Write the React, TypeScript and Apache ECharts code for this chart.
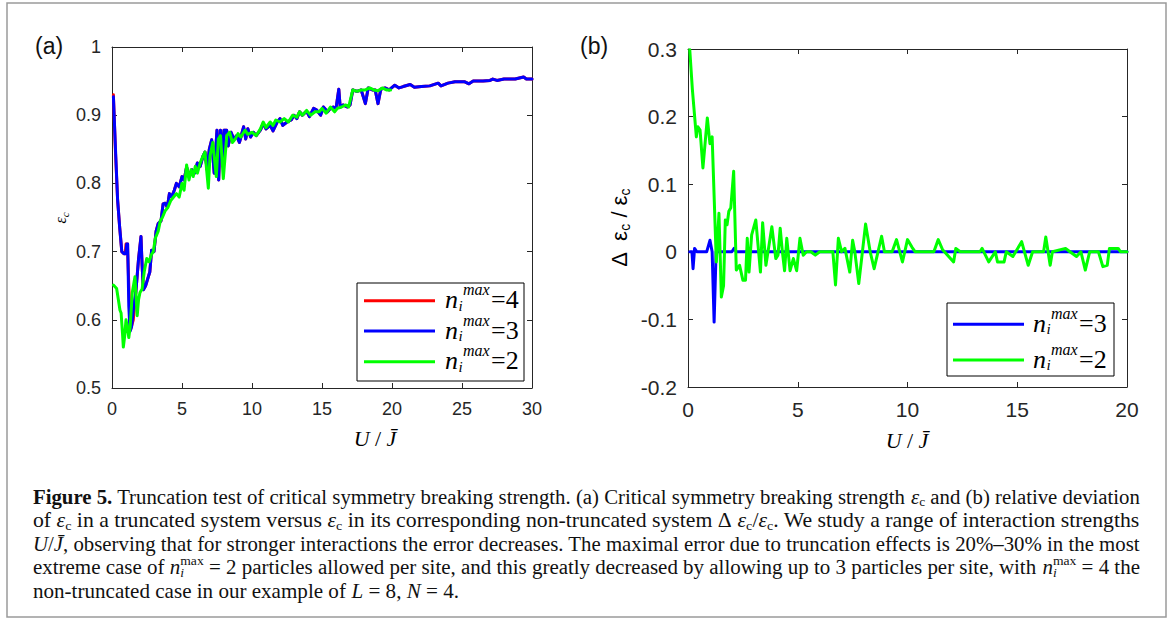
import React, { useEffect, useRef } from "react";
import * as echarts from "echarts";

type P = [number, number];

// ---------------- Panel (a): critical symmetry breaking strength ----------------
// n_i^max = 3 (blue) head, n_i^max = 4 (red) head; both share the same tail.
const blueHeadA: P[] = [
  [0.1, 0.927], [0.25, 0.85], [0.4, 0.776], [0.55, 0.735], [0.7, 0.7], [0.85, 0.697],
  [0.98, 0.697], [1.05, 0.711], [1.12, 0.711], [1.2, 0.62], [1.29, 0.583], [1.4, 0.59],
  [1.55, 0.62], [1.7, 0.64], [1.9, 0.69], [2.07, 0.722],
];
const redHeadA: P[] = [
  [0.1, 0.93], [0.25, 0.845], [0.4, 0.776], [0.55, 0.735], [0.7, 0.7], [0.85, 0.697],
  [0.95, 0.697], [1.0, 0.711], [1.1, 0.711], [1.2, 0.65], [1.32, 0.585], [1.52, 0.6],
  [1.7, 0.64], [1.9, 0.69], [2.07, 0.722],
];
const tailA: P[] = [
  [2.15, 0.68], [2.24, 0.644], [2.4, 0.65], [2.55, 0.66], [2.7, 0.67], [2.83, 0.702], [3.0, 0.7],
  [3.15, 0.73], [3.3, 0.741], [3.5, 0.745], [3.65, 0.77], [3.8, 0.771], [3.95, 0.765], [4.1, 0.785],
  [4.26, 0.78], [4.45, 0.79], [4.6, 0.8], [4.8, 0.795], [5.0, 0.81], [5.15, 0.805], [5.33, 0.824],
  [5.5, 0.81], [5.7, 0.82], [5.9, 0.815], [6.1, 0.83], [6.3, 0.825], [6.5, 0.84], [6.64, 0.846],
  [6.8, 0.82], [6.95, 0.85], [7.12, 0.864], [7.3, 0.815], [7.5, 0.878], [7.62, 0.805], [7.75, 0.878],
  [7.9, 0.83], [8.0, 0.878], [8.19, 0.878], [8.3, 0.855], [8.5, 0.875], [8.7, 0.865], [8.9, 0.87],
  [9.1, 0.86], [9.3, 0.875], [9.4, 0.883], [9.55, 0.865], [9.7, 0.88], [9.9, 0.868], [10.1, 0.875],
  [10.3, 0.87], [10.6, 0.878], [10.8, 0.888], [11.0, 0.88], [11.3, 0.885], [11.5, 0.877], [11.8, 0.89],
  [12.0, 0.895], [12.2, 0.885], [12.5, 0.89], [12.8, 0.893], [13.0, 0.9], [13.2, 0.895], [13.4, 0.905],
  [13.6, 0.9], [13.9, 0.906], [14.1, 0.898], [14.4, 0.91], [14.6, 0.908], [14.9, 0.9], [15.1, 0.912],
  [15.4, 0.905], [15.6, 0.91], [15.8, 0.912], [16.0, 0.91], [16.2, 0.938], [16.3, 0.912], [16.5, 0.915],
  [16.8, 0.912], [17.0, 0.915], [17.2, 0.937], [17.5, 0.935], [17.8, 0.937], [18.1, 0.917], [18.3, 0.94],
  [18.6, 0.937], [18.8, 0.937], [19.0, 0.917], [19.2, 0.938], [19.5, 0.94], [19.8, 0.937], [20.2, 0.944],
  [20.5, 0.94], [20.8, 0.942], [21.3, 0.945], [21.6, 0.941], [22.1, 0.942], [22.7, 0.943], [23.3, 0.947],
  [23.5, 0.943], [24.0, 0.947], [24.5, 0.949], [25.2, 0.949], [25.5, 0.946], [25.8, 0.95], [26.5, 0.95],
  [27.0, 0.951], [27.2, 0.953], [27.5, 0.951], [28.0, 0.953], [28.8, 0.953], [29.4, 0.956], [29.6, 0.953],
  [30.0, 0.953],
];
const redA: P[] = [...redHeadA, ...tailA];
const blueA: P[] = [...blueHeadA, ...tailA];
const greenA: P[] = [
  [0.1, 0.651], [0.33, 0.646], [0.45, 0.63], [0.57, 0.614], [0.65, 0.61], [0.75, 0.58], [0.81, 0.56],
  [0.9, 0.575], [1.0, 0.6], [1.05, 0.595], [1.2, 0.574], [1.3, 0.59], [1.45, 0.64], [1.64, 0.663],
  [1.8, 0.606], [1.9, 0.63], [2.0, 0.64], [2.15, 0.645], [2.3, 0.67], [2.48, 0.69], [2.65, 0.685],
  [2.8, 0.695], [2.95, 0.7], [3.1, 0.72], [3.3, 0.73], [3.45, 0.745], [3.6, 0.75], [3.8, 0.76],
  [4.0, 0.765], [4.2, 0.775], [4.4, 0.78], [4.6, 0.785], [4.8, 0.78], [5.0, 0.8], [5.15, 0.79],
  [5.33, 0.827], [5.5, 0.805], [5.65, 0.82], [5.8, 0.81], [5.95, 0.825], [6.1, 0.815], [6.3, 0.83],
  [6.5, 0.84], [6.64, 0.846], [6.88, 0.793], [7.0, 0.84], [7.2, 0.86], [7.45, 0.81], [7.6, 0.865],
  [7.75, 0.87], [7.95, 0.807], [8.2, 0.87], [8.4, 0.875], [8.6, 0.86], [8.8, 0.865], [9.0, 0.873],
  [9.2, 0.868], [9.5, 0.878], [9.7, 0.872], [10.0, 0.875], [10.3, 0.87], [10.6, 0.88], [10.8, 0.89],
  [11.0, 0.882], [11.3, 0.89], [11.5, 0.885], [11.7, 0.893], [12.0, 0.89], [12.3, 0.895], [12.6, 0.89],
  [12.9, 0.9], [13.2, 0.897], [13.4, 0.905], [13.6, 0.9], [13.9, 0.907], [14.2, 0.9], [14.5, 0.905],
  [14.8, 0.905], [15.0, 0.91], [15.3, 0.903], [15.6, 0.912], [15.9, 0.905], [16.1, 0.91], [16.4, 0.912],
  [16.7, 0.915], [16.9, 0.912], [17.2, 0.937], [17.5, 0.935], [17.8, 0.937], [18.1, 0.937], [18.4, 0.94],
  [18.7, 0.937], [19.0, 0.936], [19.3, 0.94], [19.6, 0.937], [19.9, 0.937],
];

// ---------------- Panel (b): relative deviation ----------------
const blueB: P[] = [
  [0.08, 0], [0.18, 0], [0.23, -0.025], [0.3, 0.005], [0.4, 0], [0.85, 0], [1.0, 0.017], [1.1, 0],
  [1.19, -0.104], [1.28, 0], [2.0, 0], [2.1, 0.005], [2.2, 0], [20, 0],
];
const greenB: P[] = [
  [0.08, 0.299], [0.2, 0.24], [0.38, 0.17], [0.45, 0.185], [0.55, 0.18], [0.68, 0.124], [0.88, 0.198],
  [1.0, 0.16], [1.1, 0.17], [1.29, -0.015], [1.41, 0.057], [1.52, -0.067], [1.62, -0.05], [1.7, 0.047],
  [1.78, 0.04], [1.86, 0.06], [1.95, 0.065], [2.08, 0.119], [2.2, -0.027], [2.35, -0.02], [2.5, -0.042],
  [2.62, -0.042], [2.7, 0.02], [2.78, -0.03], [2.9, 0.025], [3.09, 0.047], [3.3, -0.03], [3.4, 0.043],
  [3.55, -0.02], [3.82, 0.037], [4.0, -0.01], [4.1, -0.005], [4.2, 0.035], [4.3, 0], [4.4, -0.028],
  [4.5, 0.02], [4.65, -0.028], [4.8, -0.01], [4.95, -0.028], [5.1, 0.02], [5.25, -0.005], [5.4, 0],
  [5.6, 0], [5.8, -0.005], [6.0, 0], [6.6, 0], [6.72, -0.049], [6.85, 0.02], [7.0, 0], [7.15, 0.005],
  [7.37, -0.03], [7.5, 0.017], [7.6, 0], [7.78, -0.047], [8.09, 0.041], [8.3, 0], [8.48, -0.025],
  [8.82, 0.023], [8.95, 0], [9.3, 0], [9.5, 0.018], [9.77, -0.015], [10.0, 0.018], [10.2, 0.007],
  [10.35, 0], [11.2, 0], [11.4, 0.018], [11.6, 0.003], [12.1, -0.015], [12.2, 0.005], [12.4, 0],
  [13.3, 0], [13.4, 0.005], [13.7, -0.015], [14.0, 0], [14.1, -0.015], [14.4, -0.015], [14.5, 0],
  [14.8, -0.007], [15.2, 0.015], [15.5, -0.02], [15.7, 0], [16.2, 0], [16.3, 0.022], [16.5, -0.02],
  [16.6, 0], [17.2, 0.005], [17.4, 0], [17.7, -0.007], [17.9, 0], [18.1, -0.027], [18.3, 0], [18.7, 0],
  [18.9, -0.022], [19.1, -0.02], [19.2, 0.005], [19.6, 0.005], [19.7, 0], [20.0, 0],
];

const legendLabelsA = ["4", "3", "2"];
const legendColorsA = ["#ff0000", "#0000ff", "#00ff00"];
const legendLabelsB = ["3", "2"];
const legendColorsB = ["#0000ff", "#00ff00"];

const SERIF = '"Liberation Serif", "DejaVu Serif", serif';
const SANS = '"Liberation Sans", Arial, sans-serif';
const AX = "#262626";

type Tok = [string, string];
const captionLines: Tok[][] = [
  [["Figure 5.", "b"], [" Truncation test of critical symmetry breaking strength. (a) Critical symmetry breaking strength ", "r"], ["ε", "i"], ["c", "sub"], [" and (b) relative deviation", "r"]],
  [["of ", "r"], ["ε", "i"], ["c", "sub"], [" in a truncated system versus ", "r"], ["ε", "i"], ["c", "sub"], [" in its corresponding non-truncated system Δ ", "r"], ["ε", "i"], ["c", "sub"], ["/", "r"], ["ε", "i"], ["c", "sub"], [". We study a range of interaction strengths", "r"]],
  [["U", "i"], ["/", "r"], ["J̄", "i"], [", observing that for stronger interactions the error decreases. The maximal error due to truncation effects is 20%–30% in the most", "r"]],
  [["extreme case of ", "r"], ["n", "i"], ["i", "subStack"], ["max", "sup"], [" = 2 particles allowed per site, and this greatly decreased by allowing up to 3 particles per site, with ", "r"], ["n", "i"], ["i", "subStack"], ["max", "sup"], [" = 4 the", "r"]],
  [["non-truncated case in our example of ", "r"], ["L", "i"], [" = 8, ", "r"], ["N", "i"], [" = 4.", "r"]],
];

const CAP_FS = 20;
const kindStyle: Record<string, { style: string; weight: string; size: number; dy: number }> = {
  r: { style: "normal", weight: "normal", size: CAP_FS, dy: 0 },
  b: { style: "normal", weight: "bold", size: CAP_FS, dy: 0 },
  i: { style: "italic", weight: "normal", size: CAP_FS, dy: 0 },
  sub: { style: "normal", weight: "normal", size: 13, dy: 5 },
  subStack: { style: "italic", weight: "normal", size: 13, dy: 5 },
  sup: { style: "normal", weight: "normal", size: 13, dy: -7 },
};

let measureCtx: CanvasRenderingContext2D | null = null;
function measure(text: string, style: string, weight: string, size: number, family: string) {
  if (!measureCtx) measureCtx = document.createElement("canvas").getContext("2d");
  measureCtx!.font = `${style} ${weight} ${size}px ${family}`;
  return measureCtx!.measureText(text).width;
}

function buildCaption() {
  const x0 = 33;
  const ys = [497, 520.5, 544, 567.5, 591];
  const target = 1107;
  const lines = captionLines.map((toks) => {
    let x = 0;
    let pendingW = 0;
    const children: any[] = [];
    toks.forEach(([t, k]) => {
      const s = kindStyle[k];
      const w = measure(t, s.style, s.weight, s.size, SERIF);
      const small = s.size < CAP_FS;
      children.push({
        type: "text", x, y: s.dy,
        style: { text: t, fontSize: s.size, fontFamily: SERIF, fontStyle: s.style, fontWeight: s.weight, fill: "#111", verticalAlign: "middle", align: "left", lineHeight: small ? 9 : 20 },
      });
      if (k === "subStack") { pendingW = w; }
      else { x += Math.max(w, pendingW); pendingW = 0; }
    });
    return { children, width: x };
  });
  const scales = lines.map((l) => target / l.width);
  const avg = (scales[0] + scales[1] + scales[2] + scales[3]) / 4;
  return lines.map((l, i) => ({
    type: "group", x: x0, y: ys[i], scaleX: i < 4 ? scales[i] : avg, scaleY: 1, children: l.children,
  }));
}

function buildLegend(box: { x: number; y: number; w: number; h: number }, labels: string[], colors: string[], rowYs: number[], lx1: number, lx2: number, tx: number) {
  const els: any[] = [
    { type: "rect", shape: { x: box.x, y: box.y, width: box.w, height: box.h }, style: { fill: "#fff", stroke: "#000", lineWidth: 1 }, z: 100 },
  ];
  labels.forEach((lab, i) => {
    const y = rowYs[i];
    els.push({ type: "line", shape: { x1: lx1, y1: y, x2: lx2, y2: y }, style: { stroke: colors[i], lineWidth: 3 }, z: 101 });
    els.push({ type: "text", x: tx, y: y - 1, z: 101, style: { text: "n", fontSize: 26, fontFamily: SERIF, fontStyle: "italic", fill: "#000", verticalAlign: "middle", lineHeight: 14 } });
    els.push({ type: "text", x: tx + 13.5, y: y + 5, z: 101, style: { text: "i", fontSize: 15, fontFamily: SERIF, fontStyle: "italic", fill: "#000", verticalAlign: "middle", lineHeight: 9 } });
    els.push({ type: "text", x: tx + 18, y: y - 11, z: 101, style: { text: "max", fontSize: 16, fontFamily: SERIF, fontStyle: "italic", fill: "#000", verticalAlign: "middle", lineHeight: 9 } });
    els.push({ type: "text", x: tx + 46, y: y - 1, z: 101, style: { text: "=" + lab, fontSize: 26, fontFamily: SERIF, fill: "#000", verticalAlign: "middle", lineHeight: 20 } });
  });
  return els;
}

const fmt = (v: number) => String(Math.round(v * 10) / 10);

function axes(gridIndex: number, min: number, max: number, interval: number, fs: number, kind: "x" | "y") {
  const common = {
    type: "value", gridIndex, min, max, interval,
    axisLine: { show: true, onZero: false, lineStyle: { color: AX, width: 1 } },
    axisTick: { show: true, inside: true, length: 5, lineStyle: { color: AX, width: 1 } },
    splitLine: { show: false },
  };
  return [
    { ...common, position: kind === "x" ? "bottom" : "left", axisLabel: { show: true, fontSize: fs, fontFamily: SANS, color: AX, margin: kind === "x" ? 12 : 11, formatter: fmt } },
    { ...common, position: kind === "x" ? "top" : "right", axisLabel: { show: false } },
  ];
}

function lineSeries(data: P[], color: string, xi: number, yi: number, z: number) {
  return {
    type: "line", data, xAxisIndex: xi, yAxisIndex: yi, showSymbol: false, symbol: "none", z,
    lineStyle: { color, width: 3, join: "round", cap: "round" }, itemStyle: { color },
    clip: true, silent: true,
  };
}

export default function App() {
  const ref = useRef<HTMLDivElement>(null);
  useEffect(() => {
    document.body.style.margin = "0";
    const chart = echarts.init(ref.current!, undefined, { renderer: "svg" });
    const subRich = (fam: string, fs: number, sfs: number, italic: boolean) => ({
      m: { fontSize: fs, fontFamily: fam, fontStyle: italic ? "italic" : "normal", fill: "#000", lineHeight: fs + 4 },
      r: { fontSize: fs, fontFamily: fam, fill: "#000", lineHeight: fs + 4 },
      s: { fontSize: sfs, fontFamily: fam, fontStyle: italic ? "italic" : "normal", fill: "#000", lineHeight: sfs, verticalAlign: "bottom" },
    });
    const option: any = {
      animation: false,
      backgroundColor: "#fff",
      grid: [
        { left: 112, top: 47, width: 420, height: 341, containLabel: false },
        { left: 688, top: 49, width: 439, height: 338, containLabel: false },
      ],
      xAxis: [...axes(0, 0, 30, 5, 18, "x"), ...axes(1, 0, 20, 5, 21, "x")],
      yAxis: [...axes(0, 0.5, 1, 0.1, 18, "y"), ...axes(1, -0.2, 0.3, 0.1, 21, "y")],
      series: [
        { name: "n_i^max=4", ...lineSeries(redA, "#ff0000", 0, 0, 2) },
        { name: "n_i^max=3", ...lineSeries(blueA, "#0000ff", 0, 0, 3) },
        { name: "n_i^max=2", ...lineSeries(greenA, "#00ff00", 0, 0, 4) },
        { name: "n_i^max=3 ", ...lineSeries(blueB, "#0000ff", 2, 2, 3) },
        { name: "n_i^max=2 ", ...lineSeries(greenB, "#00ff00", 2, 2, 4) },
      ],
      graphic: [
        { type: "rect", shape: { x: 7, y: 3, width: 1159, height: 614 }, style: { fill: "none", stroke: "#9a9a9a", lineWidth: 1.5 }, z: 0, silent: true },
        { type: "text", x: 35, y: 46, style: { text: "(a)", fontSize: 23, fontFamily: SANS, fill: "#111", verticalAlign: "middle" } },
        { type: "text", x: 580, y: 46, style: { text: "(b)", fontSize: 23, fontFamily: SANS, fill: "#111", verticalAlign: "middle" } },
        // axis titles
        { type: "text", x: 375, y: 438, style: { text: "{m|U}{r| /}{m| J̄}", align: "center", verticalAlign: "middle", rich: subRich(SERIF, 22, 14, true) } },
        { type: "text", x: 907, y: 440, style: { text: "{m|U}{r| /}{m| J̄}", align: "center", verticalAlign: "middle", rich: subRich(SERIF, 22, 14, true) } },
        { type: "text", x: 60, y: 218, rotation: Math.PI / 2, style: { text: "{m|ε}{s|c}", align: "center", verticalAlign: "middle", rich: subRich(SERIF, 16, 11, true) } },
        { type: "text", x: 619, y: 228, rotation: Math.PI / 2, style: { text: "{r|Δ  ε}{s|c}{r| / ε}{s|c}", align: "center", verticalAlign: "middle", rich: subRich(SANS, 22, 14, false) } },
        ...buildLegend({ x: 357, y: 283, w: 167, h: 98 }, legendLabelsA, legendColorsA, [300.7, 331, 361.7], 364, 435, 445),
        ...buildLegend({ x: 947, y: 303, w: 167, h: 73 }, legendLabelsB, legendColorsB, [324.3, 360], 953, 1024, 1033),
        ...buildCaption(),
      ],
    };
    chart.setOption(option);
    return () => chart.dispose();
  }, []);
  return <div ref={ref} style={{ width: 1171, height: 626 }} />;
}
